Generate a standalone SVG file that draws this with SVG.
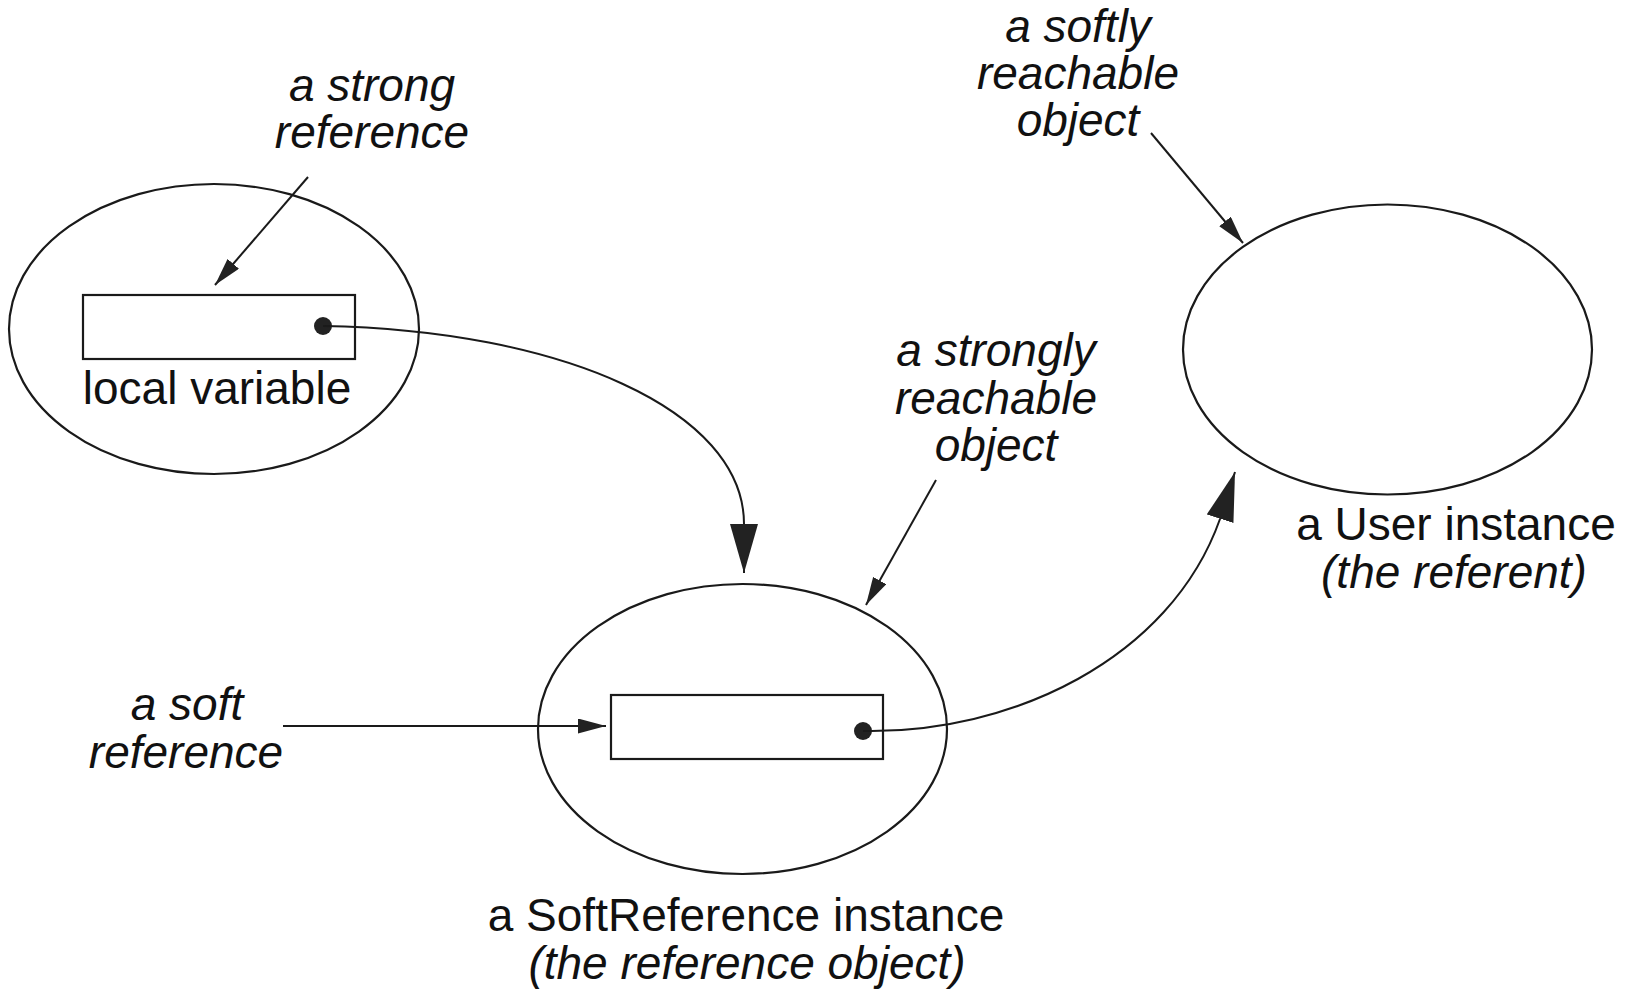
<svg xmlns="http://www.w3.org/2000/svg" width="1630" height="990" viewBox="0 0 1630 990">
<style>
.shape{fill:none;stroke:#1a1a1a;stroke-width:2.2}
.box{fill:#fff;stroke:#1a1a1a;stroke-width:2.2}
.dot{fill:#222}
.conn{fill:none;stroke:#1a1a1a;stroke-width:2}
text{font-family:"Liberation Sans",Arial,sans-serif;font-size:46px;fill:#111;text-anchor:middle}
.it{font-style:italic}
</style>
<defs>
<marker id="big" markerUnits="userSpaceOnUse" orient="auto" markerWidth="50" markerHeight="30" refX="49" refY="14" viewBox="0 0 50 30"><path d="M0,0 L49,14 L0,28 z" fill="#222"/></marker>
<marker id="small" markerUnits="userSpaceOnUse" orient="auto" markerWidth="30" markerHeight="16" refX="28" refY="7.5" viewBox="0 0 30 16"><path d="M0,0 L28,7.5 L0,15 z" fill="#222"/></marker>
</defs>
<g id="local-variable-node">
<ellipse class="shape" cx="214" cy="329" rx="205" ry="145"/>
<rect class="box" x="83" y="295" width="272" height="64"/>
<circle class="dot" cx="323" cy="326" r="9"/>
<text x="217" y="404">local variable</text>
</g>
<g id="softreference-node">
<ellipse class="shape" cx="742.5" cy="729" rx="204.5" ry="145"/>
<rect class="box" x="611" y="695" width="272" height="64"/>
<circle class="dot" cx="863" cy="731" r="9"/>
<text x="746" y="931">a SoftReference instance</text>
<text class="it" x="747" y="979">(the reference object)</text>
</g>
<g id="user-node">
<ellipse class="shape" cx="1387.5" cy="349.5" rx="204.5" ry="145"/>
<text x="1456" y="540">a User instance</text>
<text class="it" x="1454" y="588">(the referent)</text>
</g>
<g id="labels">
<text class="it" x="372" y="101">a strong</text>
<text class="it" x="372" y="148">reference</text>
<text class="it" x="1078" y="42">a softly</text>
<text class="it" x="1078" y="89">reachable</text>
<text class="it" x="1078" y="136">object</text>
<text class="it" x="996" y="366">a strongly</text>
<text class="it" x="996" y="414">reachable</text>
<text class="it" x="996" y="461">object</text>
<text class="it" x="187" y="720">a soft</text>
<text class="it" x="186" y="768">reference</text>
</g>
<g id="connectors">
<path class="conn" d="M323,326 C560,330 744,410 744,524 L744,573" marker-end="url(#big)"/>
<path class="conn" d="M863,731 C1010,734 1170,660 1220,519 L1235,472" marker-end="url(#big)"/>
<path class="conn" d="M308,177 L215,285" marker-end="url(#small)"/>
<path class="conn" d="M1151,133 L1243,243" marker-end="url(#small)"/>
<path class="conn" d="M936,480 L866,605" marker-end="url(#small)"/>
<path class="conn" d="M283,726 L606,726" marker-end="url(#small)"/>
</g>
</svg>
